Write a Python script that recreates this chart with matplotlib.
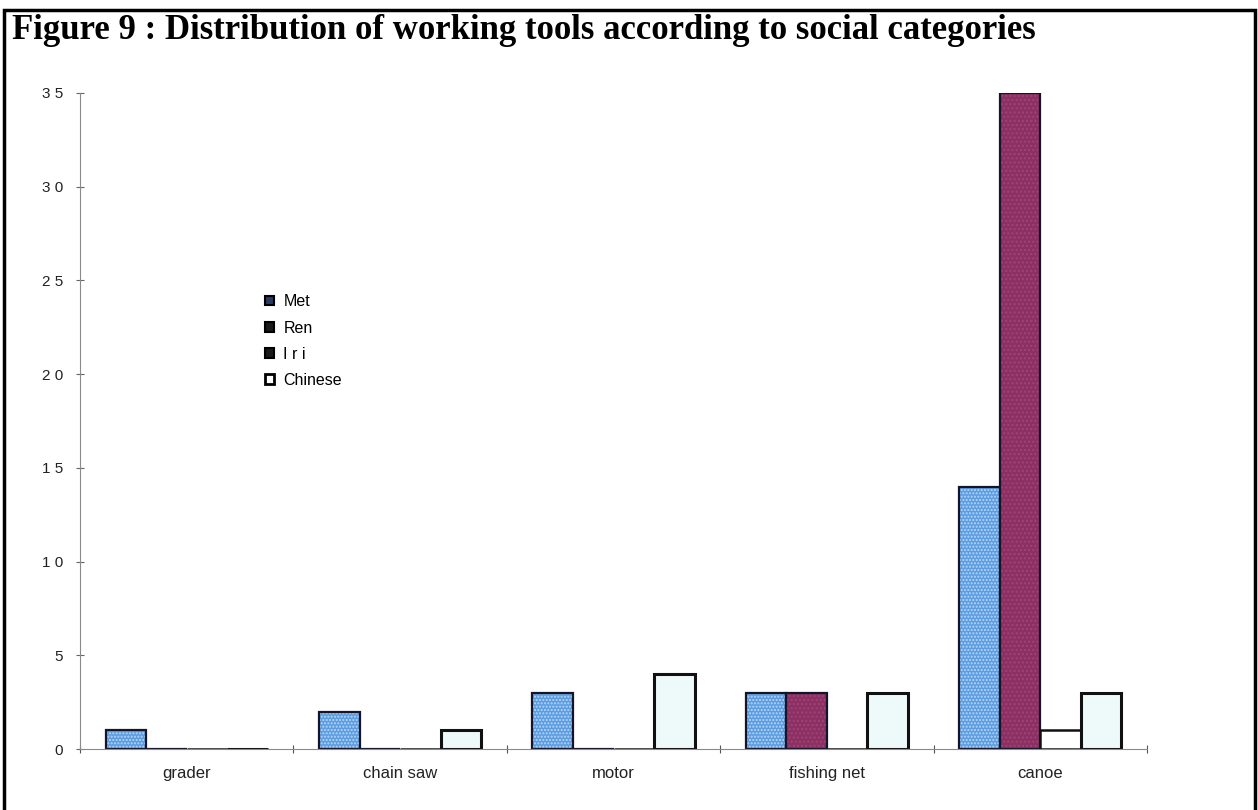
import numpy as np
import matplotlib.pyplot as plt
from matplotlib.patches import Patch, Rectangle

# Werkzeuge je soziale Kategorie
tools = ['grader', 'chain saw', 'motor', 'fishing net', 'canoe']
groups = ['Met', 'Ren', 'I r i', 'Chinese']
met = [1, 2, 3, 3, 14]
ren = [0, 0, 0, 3, 35]
iri = [0, 0, 0, 0, 1]
chinese = [0, 1, 4, 3, 3]
yticks = [0, 5, 10, 15, 20, 25, 30, 35]
yticklabels = ['0', '5', '1 0', '1 5', '2 0', '2 5', '3 0', '3 5']

fig = plt.figure(figsize=(12.58, 8.10), dpi=100)
ax = fig.add_axes([0.0636, 0.0753, 0.8482, 0.8099])

x = np.arange(len(tools))
w = 0.19
dark = '#15152a'

# Met: blau gerastert (Raster als Schraffur, Rand extra)
ax.bar(x - 1.5*w, met, w, color='#5c9ce0', hatch='.....', edgecolor='#b9d7f6', linewidth=0)
ax.bar(x - 1.5*w, met, w, facecolor='none', edgecolor=dark, linewidth=1.6)
# Ren: weinrot
ax.bar(x - 0.5*w, ren, w, color='#8c2f63', hatch='....', edgecolor='#9e4575', linewidth=0)
ax.bar(x - 0.5*w, ren, w, facecolor='none', edgecolor=dark, linewidth=1.6)
# Iri und Chinese: hell mit schwarzem Rand
ax.bar(x + 0.5*w, iri, w, color='white', edgecolor='#111111', linewidth=1.8)
ax.bar(x + 1.5*w, chinese, w, color='#eefafa', edgecolor='#111111', linewidth=2.2)

ax.set_xlim(-0.5, 4.5)
ax.set_ylim(0, 35)
for s in ['top', 'right']:
    ax.spines[s].set_visible(False)
ax.spines['left'].set_color('#8a8a8a')
ax.spines['left'].set_linewidth(0.8)
ax.spines['bottom'].set_color('#8a8a8a')
ax.spines['bottom'].set_linewidth(0.8)

ax.set_yticks(yticks)
ax.set_yticklabels(yticklabels, fontsize=11, family='Liberation Sans', color='#222222')
ax.tick_params(axis='y', direction='inout', length=6, width=0.8, color='#666666', pad=9)

# Striche an den Gruppengrenzen, Beschriftung in der Mitte
ax.set_xticks(np.arange(-0.5, 5.0, 1.0))
ax.set_xticklabels([])
ax.tick_params(axis='x', which='major', direction='inout', length=6, width=0.8, color='#555555')
ax.set_xticks(x, minor=True)
ax.set_xticklabels(tools, minor=True, fontsize=12, family='Liberation Sans', color='#222222')
ax.tick_params(axis='x', which='minor', length=0, pad=12)

handles = [Patch(facecolor='#2a3a60', edgecolor='black', linewidth=1.5),
           Patch(facecolor='#1a1a1a', edgecolor='black', linewidth=1.5),
           Patch(facecolor='#1a1a1a', edgecolor='black', linewidth=1.5),
           Patch(facecolor='white', edgecolor='black', linewidth=2.0)]
ax.legend(handles, groups, loc='upper left', bbox_to_anchor=(0.16, 0.715),
          frameon=False, handlelength=0.55, handleheight=0.55, handletextpad=0.6,
          labelspacing=0.7, prop={'family': 'Liberation Sans', 'size': 11.5})

# Rahmen und Titel
fig.patches.append(Rectangle((0.003, -0.02), 0.995, 1.0077, transform=fig.transFigure,
                             fill=False, edgecolor='black', linewidth=2.5))
fig.text(0.0095, 0.962, 'Figure 9 : Distribution of working tools according to social categories',
         fontsize=25, fontweight='bold', family='Liberation Serif', va='center', ha='left')

fig.savefig('out.png', dpi=100)
